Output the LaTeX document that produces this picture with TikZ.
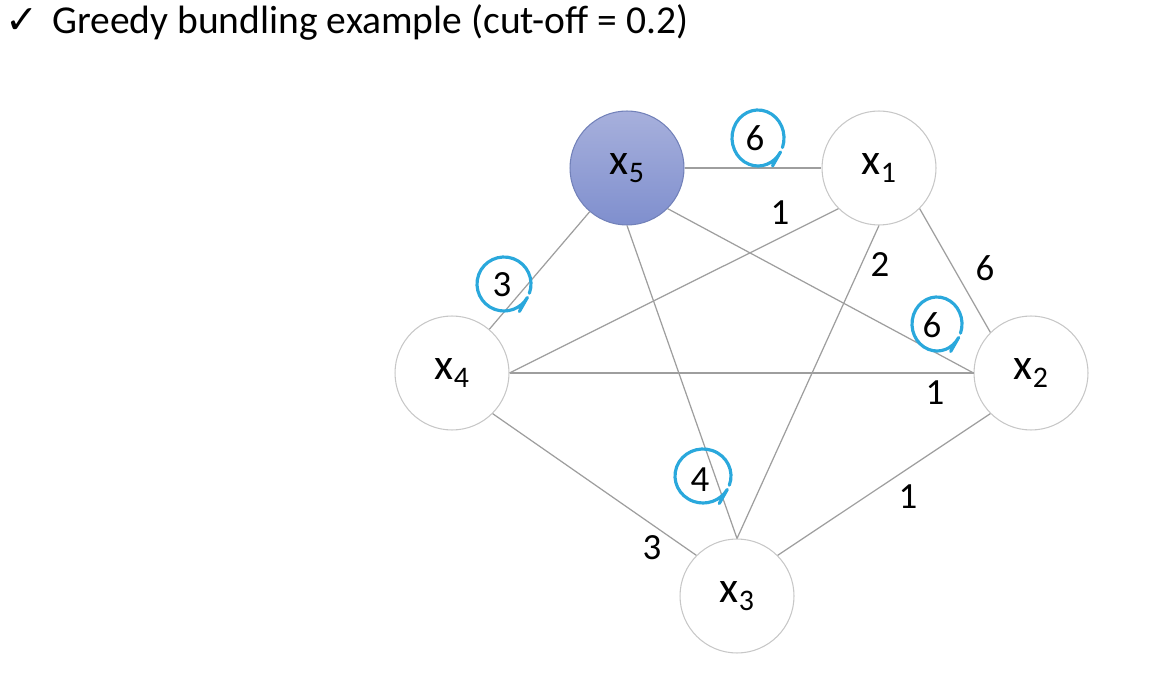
\documentclass[tikz,border=0pt]{standalone}
\usepackage{fontspec}
\setmainfont{Carlito}
\newfontfamily\symfont{DejaVu Sans}

\definecolor{markblue}{HTML}{2AA8DC}
\definecolor{nodetop}{HTML}{A7B0DC}
\definecolor{nodebot}{HTML}{7F8FCE}

\newcommand{\xlab}[1]{x\raisebox{-0.35ex}{\fontsize{17}{18}\selectfont #1}}
% hand drawn ring round a weight: centre, x radius, y radius
\newcommand{\ringmark}[3]{%
  \draw[pen] (#1) ++(-20:#2 and #3) arc[start angle=-20, delta angle=350, x radius=#2, y radius=#3]
    -- ++(-8,-14);}

\tikzset{
  vertex/.style={circle, draw=black!22, line width=0.6pt, minimum size=2.28cm, inner sep=0pt,
    font=\fontsize{25}{27}\selectfont},
  chosen/.style={vertex, draw=nodebot!90!black, top color=nodetop, bottom color=nodebot},
  edge/.style={draw=black!38, line width=0.7pt},
  weight/.style={inner sep=0pt, font=\fontsize{21}{23}\selectfont},
  pen/.style={draw=markblue, line width=1.8pt, line cap=round, line join=round},
}

\begin{document}
\begin{tikzpicture}[x=0.02cm, y=0.02cm]
  \useasboundingbox (0,0) rectangle (1165,-685);

  \node[anchor=west, inner sep=0pt, font=\fontsize{22.5}{26}\selectfont] (title) at (5,-22)
    {{\symfont ✓}\hspace{0.35em}Greedy bundling example (cut-off = 0.2)};

  % vertices
  \node[chosen] (x5) at (627,-168) {\xlab{5}};
  \node[vertex] (x1) at (879,-168) {\xlab{1}};
  \node[vertex] (x2) at (1031,-373) {\xlab{2}};
  \node[vertex] (x4) at (452,-373) {\xlab{4}};
  \node[vertex] (x3) at (737,-596) {\xlab{3}};

  % edges
  \draw[edge] (x5.east) -- (x1.west);
  \draw[edge] (x5) -- (x4);
  \draw[edge] (x5.south east) -- (x2.west);
  \draw[edge] (x5.south) -- (x3.north);
  \draw[edge] (x1.south west) -- (x4.east);
  \draw[edge] (x1.south) -- (x3.north);
  \draw[edge] (x1.south east) -- (x2.north west);
  \draw[edge] (x4.east) -- (x2.west);
  \draw[edge] (x4.south east) -- (x3.north west);
  \draw[edge] (x3.north east) -- (x2.south west);

  % weights
  \node[weight] (w51) at (755,-138) {6};
  \node[weight] (w14) at (780,-213) {1};
  \node[weight] (w13) at (880,-265) {2};
  \node[weight] (w12) at (985,-268) {6};
  \node[weight] (w54) at (502,-285) {3};
  \node[weight] (w52) at (932,-325) {6};
  \node[weight] (w42) at (935,-393) {1};
  \node[weight] (w53) at (700,-480) {4};
  \node[weight] (w32) at (908,-497) {1};
  \node[weight] (w43) at (652,-548) {3};

  % bundled edges marked by hand
  \ringmark{758,-138}{26}{28}
  \ringmark{504,-284}{27}{27}
  \ringmark{937,-324}{25}{27}
  \ringmark{703,-476}{28}{27}
\end{tikzpicture}
\end{document}
